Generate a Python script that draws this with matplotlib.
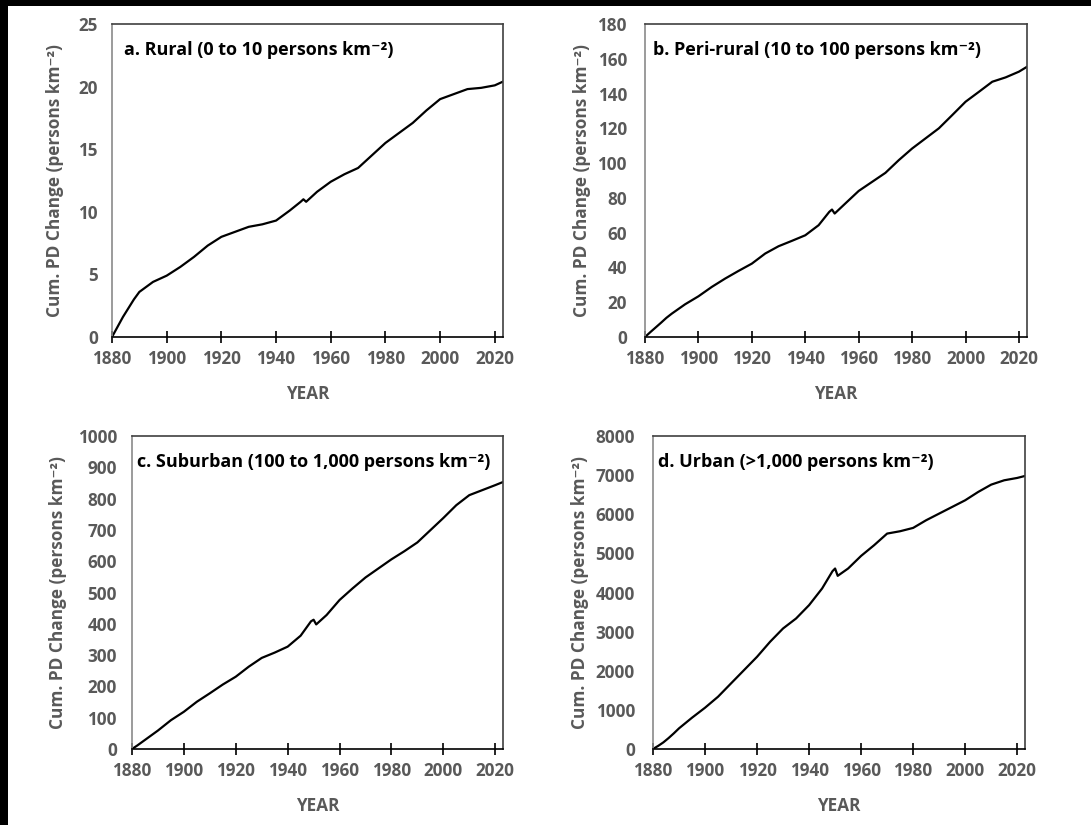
import matplotlib
matplotlib.use("Agg")
import matplotlib.pyplot as plt
from matplotlib.patches import Rectangle

years = [1880, 1882, 1884, 1886, 1888, 1890, 1895, 1900, 1905, 1910, 1915, 1920,
         1925, 1930, 1935, 1940, 1945, 1949, 1950, 1951, 1955, 1960, 1965, 1970,
         1975, 1980, 1985, 1990, 1995, 2000, 2005, 2010, 2015, 2020, 2023]

rural = [0, 0.8, 1.6, 2.3, 3.0, 3.6, 4.4, 4.9, 5.6, 6.4, 7.3, 8.0,
         8.4, 8.8, 9.0, 9.3, 10.1, 10.8, 11.0, 10.8, 11.6, 12.4, 13.0, 13.5,
         14.5, 15.5, 16.3, 17.1, 18.1, 19.0, 19.4, 19.8, 19.9, 20.1, 20.4]

peri_rural = [0, 2.8, 5.5, 8.2, 11.0, 13.4, 18.8, 23.4, 28.8, 33.6, 38.0, 42.2,
              48.0, 52.2, 55.3, 58.5, 64.3, 72.0, 73.3, 71.0, 76.8, 84.0, 89.2, 94.4,
              101.7, 108.4, 114.2, 120.0, 127.6, 135.3, 141.0, 146.8, 149.3, 152.6, 155.4]

suburban = [0, 11, 23, 35, 47, 59, 92, 119, 151, 178, 206, 231,
            263, 291, 308, 327, 362, 408, 413, 398, 428, 476, 513, 548,
            577, 606, 632, 660, 699, 738, 779, 811, 827, 843, 853]

urban = [0, 80, 170, 280, 400, 528, 800, 1055, 1336, 1677, 2017, 2357,
         2740, 3081, 3336, 3677, 4102, 4545, 4613, 4426, 4613, 4936, 5209, 5506,
         5566, 5651, 5847, 6017, 6187, 6357, 6570, 6757, 6868, 6928, 6979]

titles = ["a. Rural (0 to 10 persons km\u207b\u00b2)",
          "b. Peri-rural (10 to 100 persons km\u207b\u00b2)",
          "c. Suburban (100 to 1,000 persons km\u207b\u00b2)",
          "d. Urban (>1,000 persons km\u207b\u00b2)"]
series = [rural, peri_rural, suburban, urban]
ymaxes = [25, 180, 1000, 8000]
ysteps = [5, 20, 100, 1000]
xticks = [1880, 1900, 1920, 1940, 1960, 1980, 2000, 2020]
ylabel = "Cum. PD Change (persons km\u207b\u00b2)"
xlabel = "YEAR"

FAM = ['Open Sans', 'DejaVu Sans']
plt.rcParams['font.family'] = FAM

W, H = 1091, 825
fig = plt.figure(figsize=(W / 100, H / 100), dpi=100)
fig.patch.set_facecolor('black')
bg = Rectangle((8 / W, 0), 1 - 8 / W, 1 - 6 / H, transform=fig.transFigure,
               facecolor='white', edgecolor='none', zorder=-10)
fig.patches.append(bg)

# axes boxes in pixels: left, right, top, bottom
boxes = [(112, 503, 24, 337), (645, 1027, 24, 337),
         (132, 503, 436, 749), (653, 1025, 436, 749)]
ypads = [14, 18, 15, 18]
ylab_x = [55, 582, 58, 580]
title_x = [124, 653, 137, 658]
gray = '#595959'
FS = 12.3

for i in range(4):
    l, r, t, b = boxes[i]
    ax = fig.add_axes([l / W, 1 - b / H, (r - l) / W, (b - t) / H])
    ax.set_zorder(1)
    ax.plot(years, series[i], color='black', lw=1.6, solid_joinstyle='round')
    ax.set_xlim(1880, 2023)
    ax.set_ylim(0, ymaxes[i])
    ax.set_xticks(xticks)
    ax.set_yticks(range(0, ymaxes[i] + 1, ysteps[i]))
    ax.tick_params(axis='x', direction='inout', length=8, width=1.2, color='black',
                   labelsize=FS, labelcolor=gray, pad=5)
    ax.tick_params(axis='y', length=0, labelsize=FS, labelcolor=gray,
                   pad=ypads[i] * 0.72)
    for lab in ax.get_xticklabels() + ax.get_yticklabels():
        lab.set_fontweight('bold')
    ax.spines['left'].set_color('#8a8a8a')
    ax.spines['bottom'].set_color('black')
    ax.spines['top'].set_color('#404040')
    ax.spines['right'].set_color('#404040')
    for s in ax.spines.values():
        s.set_linewidth(1.2)
    ax.set_xlabel(xlabel, fontsize=FS, fontweight='bold', color=gray)
    ax.xaxis.set_label_coords(0.5, -57 / (b - t))
    ax.xaxis.label.set_verticalalignment('center')
    ax.set_ylabel(ylabel, fontsize=12.4, fontweight='bold', color=gray)
    ax.yaxis.set_label_coords((ylab_x[i] - l) / (r - l), 0.5)
    ax.yaxis.label.set_verticalalignment('center')
    ax.text((title_x[i] - l) / (r - l), 1 - 26 / (b - t), titles[i],
            transform=ax.transAxes, fontsize=13, fontweight='bold', color='black',
            ha='left', va='center')

fig.savefig('out.png', dpi=100, facecolor=fig.get_facecolor())
